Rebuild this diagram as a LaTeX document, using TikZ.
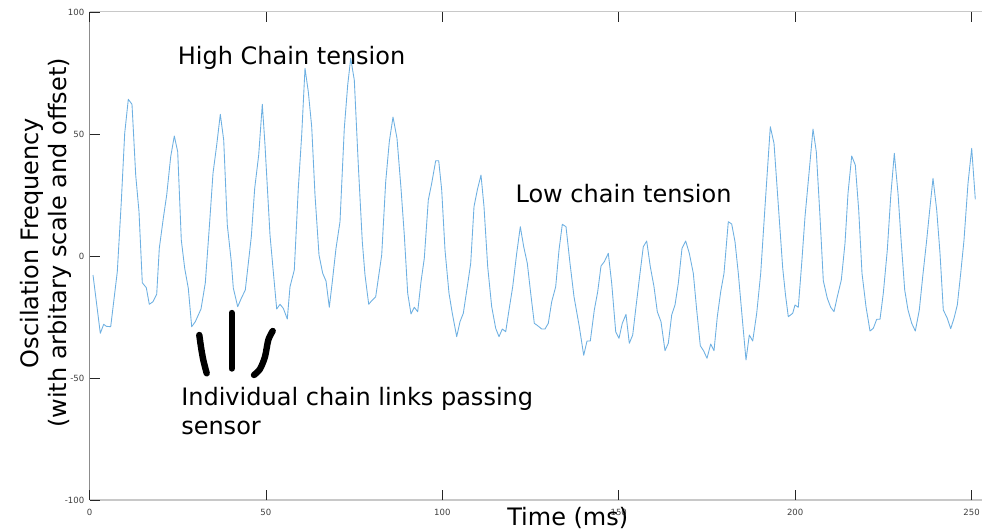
\documentclass[tikz,border=0pt]{standalone}
\usepackage{fontspec}
\setmainfont{DejaVu Sans}
\definecolor{signalblue}{RGB}{110,176,226}
\definecolor{spinegray}{RGB}{140,140,140}
\definecolor{boxgray}{RGB}{200,200,200}
\definecolor{ticktext}{RGB}{64,64,64}

\begin{document}
\begin{tikzpicture}[x=0.75pt,y=-0.75pt,
    signal/.style={draw=signalblue,line width=0.65pt,line join=round},
    tickmark/.style={draw=black!85,line width=0.6pt},
    ticklabel/.style={text=ticktext,inner sep=0pt,font=\fontsize{6.4}{7}\selectfont},
    annot/.style={inner sep=0pt,font=\fontsize{18}{21.2}\selectfont},
    linkstroke/.style={line width=4.8pt,line cap=round,line join=round}]
  \useasboundingbox (0,0) rectangle (982,532);
  \fill[white] (0,0) rectangle (982,532);

  % axes box
  \draw[boxgray,line width=1.1pt] (89.5,11.7) -- (982,11.7);
  \draw[boxgray,line width=1.1pt] (89.5,500) -- (982,500);
  \draw[spinegray,line width=0.75pt] (89.5,11.7) -- (89.5,500);

  % ticks and tick labels
  \foreach \t in {0,50,...,250} {
    \draw[tickmark] ({89.5+3.5285*\t},500) -- ++(0,-10);
    \draw[tickmark] ({89.5+3.5285*\t},11.7) -- ++(0,10);
    \node[ticklabel] (xt\t) at ({89.5+3.5285*\t},512.7) {\t};
  }
  \foreach \v in {-100,-50,0,50,100} {
    \draw[tickmark] (89.5,{256-2.441*\v}) -- ++(10,0);
    \node[ticklabel,anchor=east] (yt\v) at (84.5,{256.5-2.441*\v}) {\v};
  }

  % measured signal
  \draw[signal] plot coordinates {
    (93,275) (100.3,333.3) (103.7,324.3) (106.3,326.3) (110.7,326.7) (117.3,271.7)
    (121.3,201.7) (124.7,133.3) (128.3,99.3) (132,104.3) (135.7,175) (139,211.7)
    (142.3,282.7) (146.3,287.7) (149.3,304.3) (153,301.7) (156.7,294.3) (159.3,248.3)
    (163.3,218.3) (166.7,195) (170.7,156.7) (174.3,136) (177.7,151.7) (181.3,240)
    (184.7,268.3) (188.3,288.3) (191.7,326.7) (195.3,321.7) (201,309) (205.3,283)
    (209.7,221.7) (213,173.3) (216.7,145) (220.3,114.3) (223.7,140) (227.3,225)
    (231.3,261.7) (233.3,288) (237.7,306.7) (241.3,298.3) (245.3,290) (251.3,236.7)
    (254.7,188.3) (258.7,155) (262.3,104.3) (265,145) (270,235) (273.3,271.7)
    (276.7,309) (280,304.3) (283.3,308.3) (287.3,319) (290,286.7) (294.3,270)
    (298.3,188.3) (301.7,135) (305,68.3) (308.3,91.7) (311.7,126.7) (315,195)
    (319,255) (322.7,273.3) (326,281) (329.3,307.3) (332.3,281.7) (336,248.3)
    (340,221.7) (344.3,128.3) (347.7,85) (350.7,58.3) (354.3,80) (358.3,165)
    (362.3,241.7) (365,275) (368.7,304.3) (371.7,300.7) (375.7,296.7) (381.7,255)
    (385.7,181.7) (389.3,141.7) (393,117) (397,138.3) (401,188.3) (404.3,235)
    (407.7,293.3) (411,314) (414.3,307.3) (417.7,311.7) (421,281.7) (424.3,258.3)
    (428.3,200) (431.7,183.3) (435.7,160.7) (438.7,160.7) (441.7,190) (445,250)
    (449,293.3) (452.3,313.3) (456.7,336.7) (460,321.7) (463.3,313.3) (467.3,286.7)
    (470.7,263.3) (474,206.7) (477.3,190) (481,175) (484,206.7) (487.7,266.7)
    (491.7,306.7) (495.7,328.3) (499,336.7) (502.3,329) (505.7,331.7) (509,310)
    (512.7,286.7) (516.7,253.3) (520.3,226.7) (523.7,246.7) (527.3,263.3) (530.7,293.3)
    (534.3,323.3) (537.7,325.7) (541.7,329) (545,329) (548.3,323.3) (551.7,301.7)
    (555.7,286.7) (559,250) (562.3,224.3) (566,226.7) (570,263.3) (574,296.7)
    (579.3,326.7) (583.7,355.3) (587,341) (590.3,341) (594.3,310) (597.7,291.7)
    (601,266) (604.3,261.7) (608.3,253.3) (611.7,283.3) (615.7,331.7) (619,338.3)
    (622.3,323.3) (626,314.3) (629.3,343.3) (632.7,335) (636,306.7) (640,273.3)
    (643.3,246.7) (646.7,241) (650.3,266.7) (654,286.7) (657.3,311.7) (661,321.7)
    (665,350.7) (668.3,343.3) (671.7,315) (675,305) (678.3,283.3) (682,248.3)
    (685.7,241) (689.3,253.3) (693.3,273.3) (696.7,310) (700.3,345.7) (703.7,351)
    (707,358.3) (710.7,344) (714,350.7) (717.3,316.7) (720.7,291.7) (724,273.3)
    (728.3,221.7) (731.7,224) (735,241.7) (738.3,273.3) (742.7,323.3) (746,360)
    (749.3,335) (752.7,341) (756.7,313.3) (760.7,273.3) (765,206.7) (770.3,126.7)
    (774,143.3) (778.3,205) (782.7,268) (785.5,295) (788.3,316.7) (792.7,313.3)
    (795,305) (798.3,307.3) (801.7,263.3) (805,216.7) (809.3,170) (813,129)
    (816.3,151.7) (820,216.7) (823.3,280.7) (827.3,298.3) (830.7,307.3) (834,311.7)
    (837.3,296.7) (841.3,280) (845,243.3) (848,193.3) (851.7,156) (855.3,165)
    (858.7,210) (862,273.3) (866,306.7) (870,331) (873.3,328.3) (876.7,319.3)
    (880,319.3) (883.3,293.3) (887.3,250) (890.7,196.7) (894.3,153.3) (898,193.3)
    (901.3,243.3) (904.7,290) (908,310) (911.7,323.3) (915.3,331) (919.3,310)
    (922.7,276.7) (926.7,240) (929.7,210) (933,178.3) (936.7,210) (940,253.3)
    (943.3,310) (947.3,318.3) (950.7,328.7) (954,318.3) (957.3,305) (960.7,273.3)
    (964,240) (968,183.3) (971.7,148.3) (975.3,199.3)
  };

  % hand drawn marks for the links
  \draw[linkstroke] plot[smooth] coordinates {(199.3,335) (201,347) (203.3,360) (206.7,373.3)};
  \draw[linkstroke] (231.7,313) -- (231.7,368.5);
  \draw[linkstroke] plot[smooth] coordinates {(272.7,331) (268.3,340) (265,356.7) (260,369) (254,375)};

  % annotations
  \node[annot,anchor=base west] (high) at (177.6,64) {High Chain tension};
  \node[annot,anchor=base west] (low) at (515.3,202.3) {Low chain tension};
  \node[annot,anchor=base west,align=left] (links) at (181,434) {Individual chain links passing\\sensor};
  \node[annot,anchor=base west] (xlabel) at (507,525.7) {Time (ms)};
  \node[annot,rotate=90,anchor=north,align=center] (ylabel) at (19.5,243) {Oscilation Frequency\\(with arbitary scale and offset)};
\end{tikzpicture}
\end{document}
